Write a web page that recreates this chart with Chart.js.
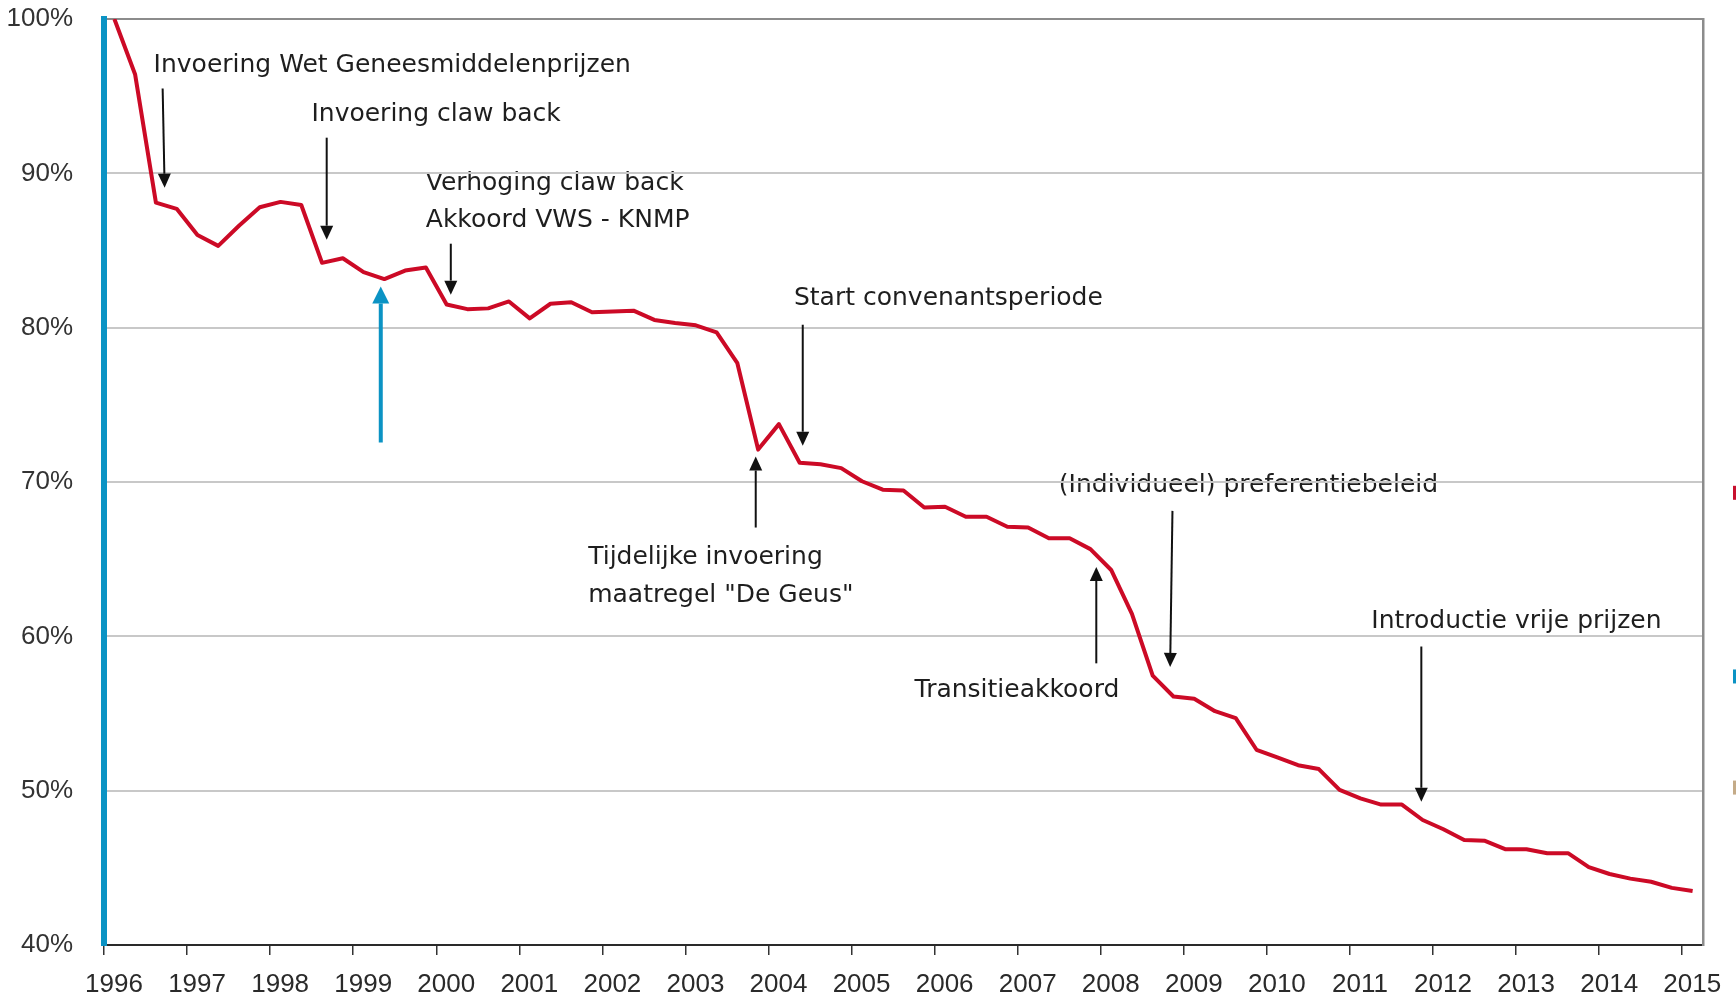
<!DOCTYPE html>
<html>
<head>
<meta charset="utf-8">
<script src="https://cdn.jsdelivr.net/npm/chart.js@4/dist/chart.umd.min.js"></script>
<style>
  html, body { margin: 0; padding: 0; background: #ffffff; }
  #wrap { width: 1736px; height: 1000px; position: relative; }
</style>
</head>
<body>
<div id="wrap"><canvas id="c" width="1736" height="1000"></canvas></div>
<script>
// ---- data ----
const firstYear = 1996;           // first quarter of the series
const yearTicks = [1996, 1997, 1998, 1999, 2000, 2001, 2002, 2003, 2004, 2005,
                   2006, 2007, 2008, 2009, 2010, 2011, 2012, 2013, 2014, 2015];
// quarterly price index (% of 1996 Q1 level)
const indexValues = [
  100.0, 96.4, 88.1, 87.7,    // 1996
  86.0, 85.3, 86.6, 87.8,     // 1997
  88.15, 87.95, 84.2, 84.5,   // 1998
  83.6, 83.15, 83.7, 83.9,    // 1999
  81.5, 81.2, 81.25, 81.7,    // 2000
  80.6, 81.55, 81.65, 81.0,   // 2001
  81.05, 81.1, 80.5, 80.3,    // 2002
  80.15, 79.7, 77.7, 72.1,    // 2003
  73.75, 71.25, 71.15, 70.9,  // 2004
  70.05, 69.5, 69.45, 68.35,  // 2005
  68.4, 67.75, 67.75, 67.1,   // 2006
  67.05, 66.35, 66.35, 65.65, // 2007
  64.3, 61.45, 57.45, 56.1,   // 2008
  55.95, 55.15, 54.7, 52.65,  // 2009
  52.15, 51.65, 51.4, 50.05,  // 2010
  49.5, 49.1, 49.1, 48.1,     // 2011
  47.5, 46.8, 46.75, 46.2,    // 2012
  46.2, 45.95, 45.95, 45.05,  // 2013
  44.6, 44.3, 44.1, 43.7,     // 2014
  43.5                        // 2015
];
const yTicks = [40, 50, 60, 70, 80, 90, 100];

// annotation texts: left edge (year), baseline (%)
const noteTexts = [
  { text: 'Invoering Wet Geneesmiddelenprijzen', x: 1996.597, y: 96.57 },
  { text: 'Invoering claw back',                 x: 1998.497, y: 93.37 },
  { text: 'Verhoging claw back',                 x: 1999.874, y: 88.94 },
  { text: 'Akkoord VWS - KNMP',                  x: 1999.874, y: 86.52 },
  { text: 'Start convenantsperiode',             x: 2004.306, y: 81.49 },
  { text: 'Tijdelijke invoering',                x: 2001.829, y: 64.68 },
  { text: 'maatregel "De Geus"',                 x: 2001.829, y: 62.25 },
  { text: '(Individueel) preferentiebeleid',     x: 2007.495, y: 69.32 },
  { text: 'Transitieakkoord',                    x: 2005.758, y: 56.09 },
  { text: 'Introductie vrije prijzen',           x: 2011.257, y: 60.56 }
];
// annotation arrows: tail (x1,y1) -> tip (x2,y2), in years / %
const noteArrows = [
  { x1: 1996.706, y1: 95.49, x2: 1996.730, y2: 89.07, kind: 'black' },
  { x1: 1998.681, y1: 92.31, x2: 1998.681, y2: 85.70, kind: 'black' },
  { x1: 2000.175, y1: 85.44, x2: 2000.175, y2: 82.14, kind: 'black' },
  { x1: 1999.332, y1: 72.56, x2: 1999.332, y2: 82.67, kind: 'blue' },
  { x1: 2004.412, y1: 80.19, x2: 2004.412, y2: 72.35, kind: 'black' },
  { x1: 2003.846, y1: 67.05, x2: 2003.846, y2: 71.65, kind: 'black' },
  { x1: 2008.863, y1: 68.13, x2: 2008.835, y2: 58.02, kind: 'black' },
  { x1: 2007.946, y1: 58.25, x2: 2007.946, y2: 64.50, kind: 'black' },
  { x1: 2011.859, y1: 59.34, x2: 2011.859, y2: 49.28, kind: 'black' }
];
// edges of a legend that lies beyond the right border of the picture (level in %)
const legendSlivers = [
  { y: 69.3, color: '#c8102e' },
  { y: 57.4, color: '#0b93c4' },
  { y: 50.2, color: '#c4ab88' }
];

// ---- styles ----
const RED = '#cc0a26';
const BLUE = '#0b93c4';
const INK = '#1e1e1e';
const arrowStyles = {
  black: { color: '#111111', width: 2, headW: 13, headL: 14 },
  blue:  { color: BLUE, width: 4, headW: 17, headL: 17 }
};

const points = indexValues.map((v, i) => ({ x: firstYear + (i + 0.5) / 4, y: v }));

function drawArrow(ctx, x1, y1, x2, y2, st) {
  const ang = Math.atan2(y2 - y1, x2 - x1);
  const bx = x2 - st.headL * Math.cos(ang), by = y2 - st.headL * Math.sin(ang);
  ctx.strokeStyle = st.color; ctx.lineWidth = st.width; ctx.lineCap = 'butt';
  ctx.beginPath(); ctx.moveTo(x1, y1); ctx.lineTo(bx, by); ctx.stroke();
  ctx.fillStyle = st.color;
  ctx.beginPath();
  ctx.moveTo(x2, y2);
  ctx.lineTo(bx + st.headW / 2 * Math.sin(ang), by - st.headW / 2 * Math.cos(ang));
  ctx.lineTo(bx - st.headW / 2 * Math.sin(ang), by + st.headW / 2 * Math.cos(ang));
  ctx.closePath(); ctx.fill();
}

const notesPlugin = {
  id: 'notes',
  beforeDraw(chart) {
    const { ctx, scales: { x, y } } = chart;
    ctx.save();
    ctx.font = '25px "DejaVu Sans"';
    ctx.fillStyle = INK;
    ctx.textAlign = 'left';
    ctx.textBaseline = 'alphabetic';
    noteTexts.forEach(t => ctx.fillText(t.text, x.getPixelForValue(t.x), y.getPixelForValue(t.y)));
    ctx.restore();
  },
  afterDatasetsDraw(chart) {
    const { ctx, scales: { x, y } } = chart;
    ctx.save();
    noteArrows.forEach(a => drawArrow(ctx,
      x.getPixelForValue(a.x1), y.getPixelForValue(a.y1),
      x.getPixelForValue(a.x2), y.getPixelForValue(a.y2), arrowStyles[a.kind]));
    // cut-off legend swatches at the right edge of the canvas
    legendSlivers.forEach(s => {
      ctx.fillStyle = s.color;
      ctx.fillRect(chart.width - 3, y.getPixelForValue(s.y) - 7, 3, 14);
    });
    ctx.restore();
  }
};

new Chart(document.getElementById('c'), {
  type: 'line',
  data: {
    datasets: [{
      data: points,
      borderColor: RED,
      borderWidth: 4,
      pointRadius: 0,
      tension: 0,
      borderJoinStyle: 'round',
      fill: false
    }]
  },
  options: {
    responsive: false,
    animation: false,
    devicePixelRatio: 1,
    layout: { padding: { top: 19, left: 0, right: 0, bottom: 0 } },
    plugins: { legend: { display: false }, tooltip: { enabled: false } },
    scales: {
      x: {
        type: 'linear',
        position: 'bottom',
        min: 1996,
        max: 2015.25,
        afterFit: s => { s.height = 55; },
        afterBuildTicks: s => { s.ticks = yearTicks.map(v => ({ value: v })); },
        ticks: {
          includeBounds: false,
          autoSkip: false,
          maxRotation: 0,
          padding: 14,
          labelOffset: 10,
          color: '#2a2a2a',
          font: { family: '"Liberation Sans", Arial, sans-serif', size: 26 },
          callback: v => String(v)
        },
        grid: { drawOnChartArea: false, drawTicks: true, tickLength: 10, color: '#333333', lineWidth: 1.5 },
        border: { color: '#2a2a2a', width: 2 }
      },
      y: {
        type: 'linear',
        position: 'left',
        min: 40,
        max: 100,
        afterFit: s => { s.width = 104; },
        afterBuildTicks: s => { s.ticks = yTicks.map(v => ({ value: v })); },
        ticks: {
          padding: 3,
          color: '#333333',
          font: { family: '"Liberation Sans", Arial, sans-serif', size: 26 },
          callback: v => v + '%'
        },
        grid: {
          drawTicks: true,
          tickLength: 28,
          tickColor: 'rgba(0,0,0,0)',
          lineWidth: 2,
          color: c => (c.tick && c.tick.value === 100) ? '#8c8c8c' : '#c8c8c8'
        },
        border: { color: BLUE, width: 6 }
      },
      yRight: {
        type: 'linear',
        position: 'right',
        min: 40,
        max: 100,
        afterFit: s => { s.width = 33; },
        ticks: { display: false },
        grid: { drawOnChartArea: false, drawTicks: false },
        border: { color: '#8c8c8c', width: 2.5 }
      }
    }
  },
  plugins: [notesPlugin]
});
</script>
</body>
</html>
